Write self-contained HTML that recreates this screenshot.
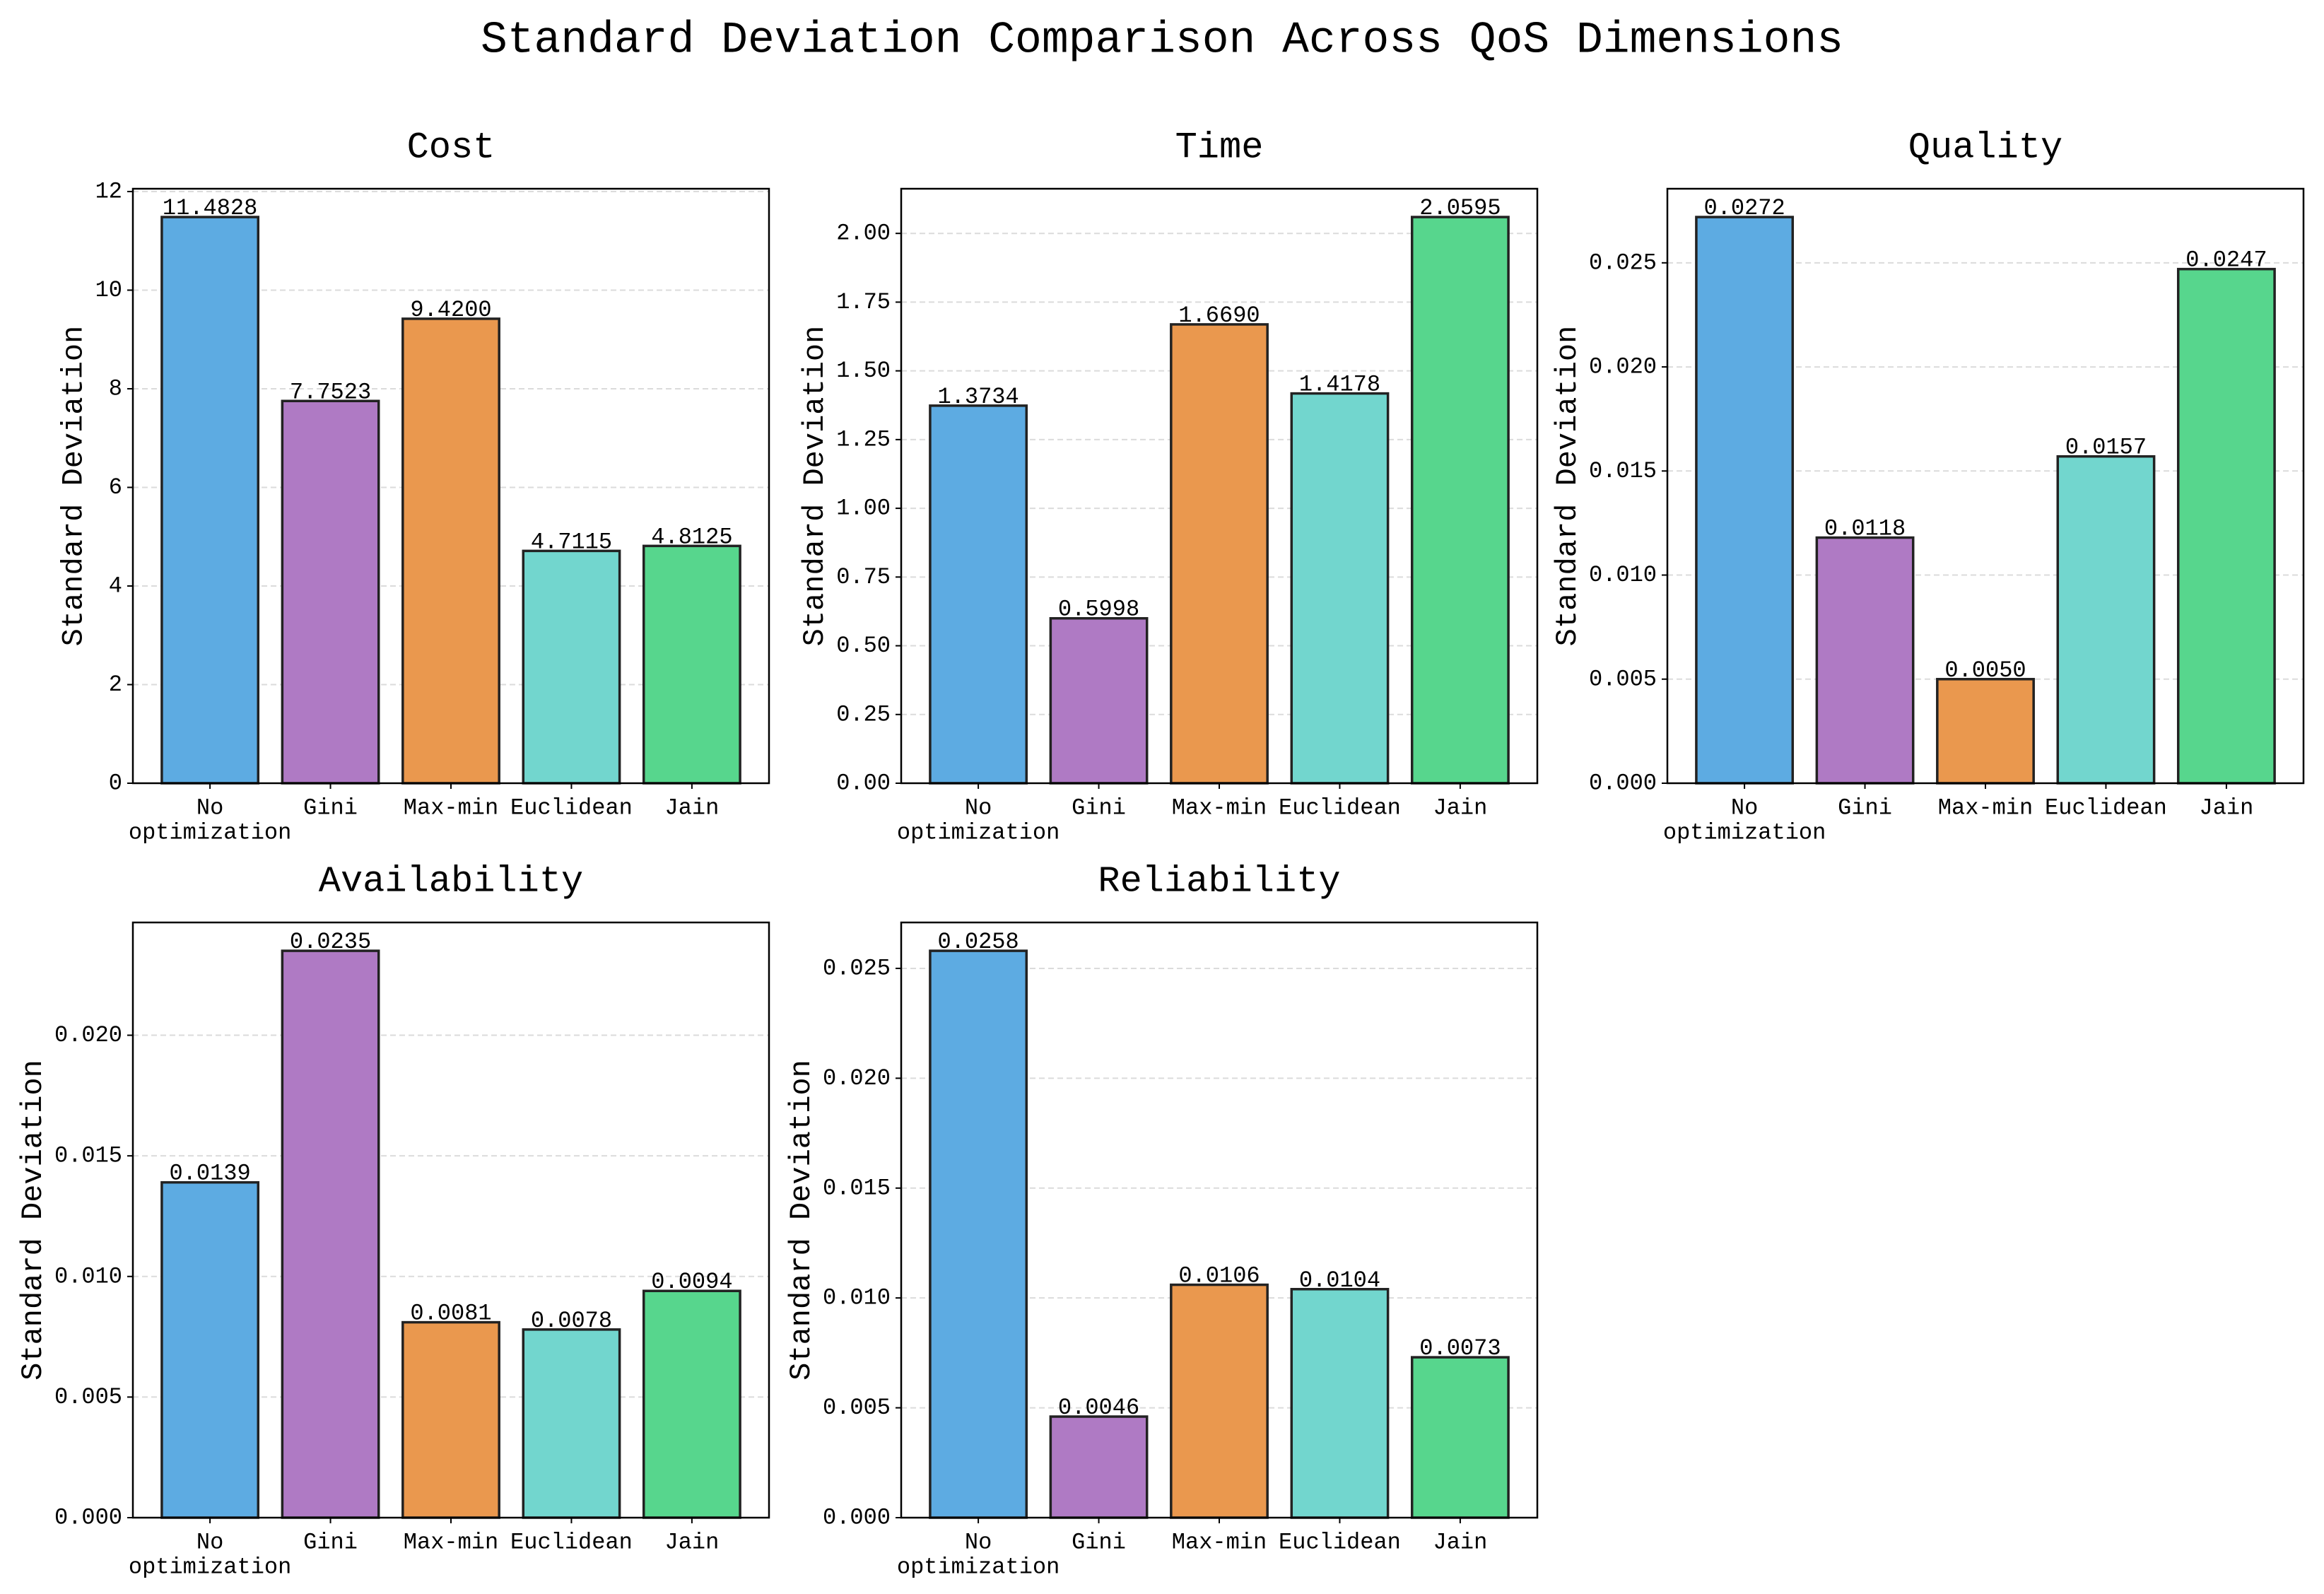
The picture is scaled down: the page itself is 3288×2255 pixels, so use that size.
<!DOCTYPE html>
<html><head><meta charset="utf-8">
<style>
html,body{margin:0;padding:0;background:#fff;}
svg{display:block;}
text{font-family:"Liberation Mono","WenQuanYi Zen Hei",monospace;fill:#000;}
</style></head>
<body>
<svg id="chart" width="3288" height="2255" viewBox="0 0 3288 2255" xmlns="http://www.w3.org/2000/svg">
<rect x="0" y="0" width="3288" height="2255" fill="#fff"/>
<text x="1644" y="57" text-anchor="middle" dominant-baseline="central" font-size="63">Standard Deviation Comparison Across QoS Dimensions</text>
<g id="panels"></g>
</svg>
<script>
const categories = ["No\noptimization", "Gini", "Max-min", "Euclidean", "Jain"];
const colors = ["#5DABE2", "#AF7AC4", "#EA984E", "#72D6CE", "#57D68D"];
const panelTitles = ["Cost", "Time", "Quality", "Availability", "Reliability"];
const costValues = [11.4828, 7.7523, 9.4200, 4.7115, 4.8125];
const timeValues = [1.3734, 0.5998, 1.6690, 1.4178, 2.0595];
const qualityValues = [0.0272, 0.0118, 0.0050, 0.0157, 0.0247];
const availabilityValues = [0.0139, 0.0235, 0.0081, 0.0078, 0.0094];
const reliabilityValues = [0.0258, 0.0046, 0.0106, 0.0104, 0.0073];
const costTicks = [0, 2, 4, 6, 8, 10, 12];
const timeTicks = [0, 0.25, 0.5, 0.75, 1.0, 1.25, 1.5, 1.75, 2.0];
const qualityTicks = [0, 0.005, 0.01, 0.015, 0.02, 0.025];
const availabilityTicks = [0, 0.005, 0.01, 0.015, 0.02];
const reliabilityTicks = [0, 0.005, 0.01, 0.015, 0.02, 0.025];
const tickDecimals = [0, 2, 3, 3, 3];

const allValues = [costValues, timeValues, qualityValues, availabilityValues, reliabilityValues];
const allTicks = [costTicks, timeTicks, qualityTicks, availabilityTicks, reliabilityTicks];
const boxes = [
  {l:188,t:267,w:900,h:841},
  {l:1275,t:267,w:900,h:841},
  {l:2359,t:267,w:900,h:841},
  {l:188,t:1305,w:900,h:842},
  {l:1275,t:1305,w:900,h:842}
];
const NS = "http://www.w3.org/2000/svg";
const root = document.getElementById("panels");
function mk(tag, attrs, parent){
  const e = document.createElementNS(NS, tag);
  for (const k in attrs) e.setAttribute(k, attrs[k]);
  parent.appendChild(e);
  return e;
}
for (let p = 0; p < 5; p++) {
  const b = boxes[p], vals = allValues[p], ticks = allTicks[p];
  const g = mk("g", {}, root);
  
  
  const ymax = Math.max(...vals) * 1.05;
  const y = v => b.t + b.h - (v / ymax) * b.h;
  const xmin = -0.64, xmax = 4.64;
  const x = i => b.l + (i - xmin) / (xmax - xmin) * b.w;
  const bw = 0.8 / (xmax - xmin) * b.w;
  // title
  const tt = mk("text", {x: b.l + b.w/2, y: b.t - 58, "text-anchor":"middle", "dominant-baseline":"central", "font-size":52}, g);
  tt.textContent = panelTitles[p];
  
  
  // grid + ticks
  let maxLen = 0;
  ticks.forEach(tv => {
    const yy = y(tv);
    const gl = mk("line", {x1:b.l, x2:b.l+b.w, y1:yy, y2:yy, stroke:"#ccc", "stroke-width":2, "stroke-dasharray":"8,5", opacity:0.7}, g);
    
    
    mk("line", {x1:b.l-8, x2:b.l, y1:yy, y2:yy, stroke:"#000", "stroke-width":2}, g);
    const s = tv.toFixed(tickDecimals[p]);
    maxLen = Math.max(maxLen, s.length);
    const tl = mk("text", {x:b.l-15, y:yy, "text-anchor":"end", "dominant-baseline":"central", "font-size":32}, g);
    tl.textContent = s;
    
    
  });
  // y label
  const lx = b.l - (maxLen * 19.2 + 45);
  const yl = mk("text", {x:lx, y:b.t+b.h/2, "text-anchor":"middle", "dominant-baseline":"central", "font-size":42, transform:"rotate(-90 "+lx+" "+(b.t+b.h/2)+")"}, g);
  yl.textContent = "Standard Deviation";
  
  
  // bars
  vals.forEach((v, i) => {
    const cx = x(i);
    const r = mk("rect", {x:cx-bw/2, y:y(v), width:bw, height:y(0)-y(v), fill:colors[i], stroke:"#222", "stroke-width":3.5}, g);
    
    
    const vl = mk("text", {x:cx, y:y(v)-4, "text-anchor":"middle", "font-size":32}, g);
    vl.textContent = v.toFixed(4);
    
    
    mk("line", {x1:cx, x2:cx, y1:b.t+b.h, y2:b.t+b.h+8, stroke:"#000", "stroke-width":2}, g);
    const lines = categories[i].split("\n");
    lines.forEach((ln, k) => {
      const xl = mk("text", {x:cx, y:b.t+b.h+35+k*35, "text-anchor":"middle", "dominant-baseline":"central", "font-size":32}, g);
      xl.textContent = ln;
      
      
    });
  });
  const fr = mk("rect", {x:b.l, y:b.t, width:b.w, height:b.h, fill:"none", stroke:"#000", "stroke-width":2.5}, g);
  
  
}
</script>
</body></html>
